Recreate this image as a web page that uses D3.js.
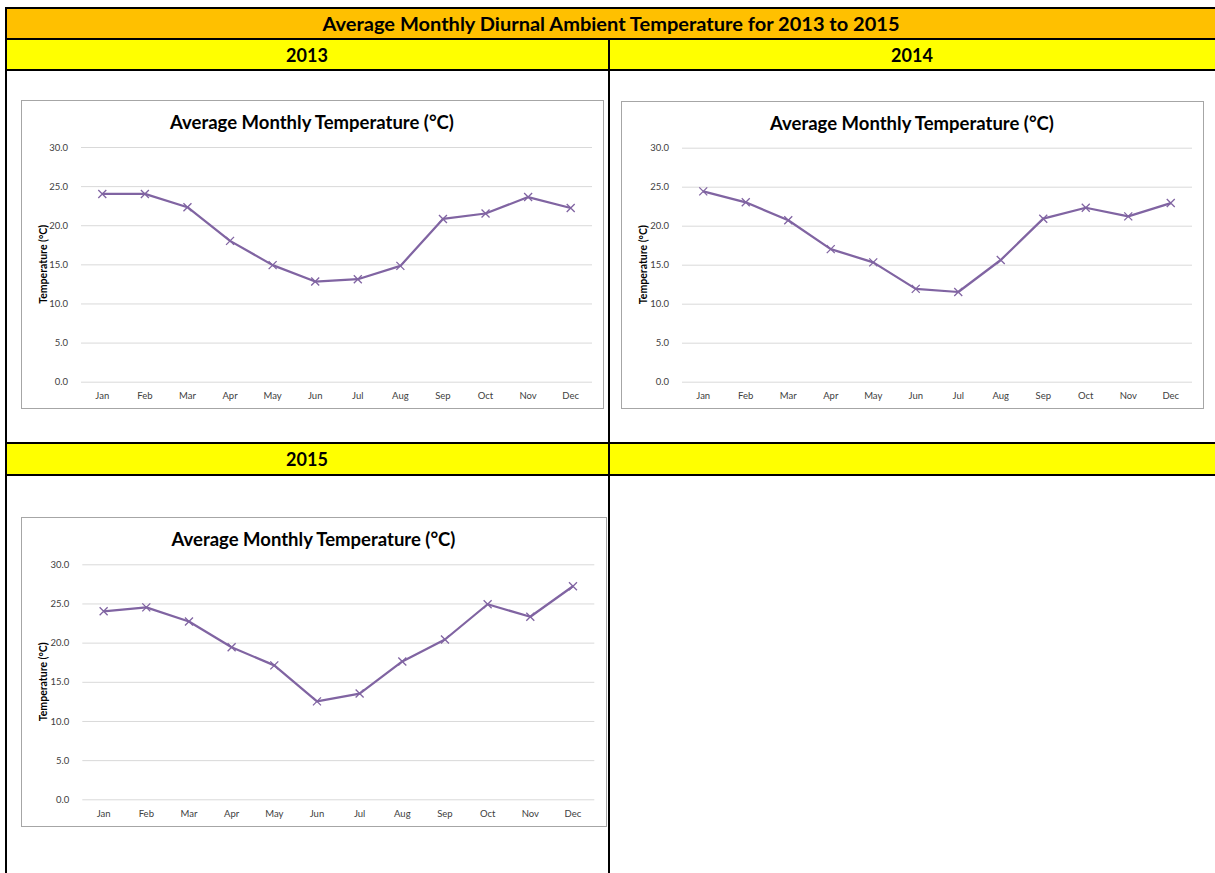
<!DOCTYPE html>
<html>
<head>
<meta charset="utf-8">
<script src="https://cdn.jsdelivr.net/npm/d3@7/dist/d3.min.js"></script>
<style>
  html, body { margin: 0; padding: 0; background: #fff; }
  svg { display: block; }
  text { font-family: Lato, "Open Sans", sans-serif; }
</style>
</head>
<body>
<svg id="sheet" width="1215" height="873"></svg>
<script>
// Monthly average diurnal ambient temperature (°C)
const months = ["Jan","Feb","Mar","Apr","May","Jun","Jul","Aug","Sep","Oct","Nov","Dec"];
const temps2013 = [24.0, 24.0, 22.3, 18.0, 14.9, 12.8, 13.1, 14.8, 20.8, 21.5, 23.6, 22.2];
const temps2014 = [24.4, 23.0, 20.7, 17.0, 15.3, 11.9, 11.5, 15.6, 20.9, 22.3, 21.2, 22.9];
const temps2015 = [24.0, 24.5, 22.7, 19.4, 17.1, 12.5, 13.5, 17.6, 20.4, 24.9, 23.3, 27.2];
const yTicks = [0, 5, 10, 15, 20, 25, 30];
const years = ["2013", "2014", "2015"];
const sheetTitle = "Average Monthly Diurnal Ambient Temperature for 2013 to 2015";
const chartTitle = "Average Monthly Temperature (°C)";
const yAxisTitle = "Temperature (°C)";

const svg = d3.select("#sheet");

// ---- spreadsheet table frame ----
const orange = "#FFC000", yellow = "#FFFF00";
const tbl = svg.append("g");
tbl.append("rect").attr("x", 6).attr("y", 8).attr("width", 1215).attr("height", 31).attr("fill", orange);
tbl.append("rect").attr("x", 6).attr("y", 39).attr("width", 1215).attr("height", 31).attr("fill", yellow);
tbl.append("rect").attr("x", 6).attr("y", 443).attr("width", 1215).attr("height", 32).attr("fill", yellow);

const hLines = [8, 39, 70, 443, 475];
tbl.selectAll("line.h").data(hLines).join("line")
  .attr("x1", 5).attr("x2", 1215).attr("y1", d => d).attr("y2", d => d)
  .attr("stroke", "#000").attr("stroke-width", 2);
tbl.append("line").attr("x1", 6).attr("x2", 6).attr("y1", 7).attr("y2", 873)
  .attr("stroke", "#000").attr("stroke-width", 2);
tbl.append("line").attr("x1", 609).attr("x2", 609).attr("y1", 39).attr("y2", 873)
  .attr("stroke", "#000").attr("stroke-width", 2);

const headStyle = sel => sel.attr("font-weight", 700).attr("font-size", 18)
  .attr("text-anchor", "middle").attr("dominant-baseline", "central").attr("fill", "#000");
tbl.append("text").attr("x", 611).attr("y", 23.5).text(sheetTitle).call(headStyle)
  .attr("textLength", 577).attr("lengthAdjust", "spacingAndGlyphs");
tbl.append("text").attr("x", 307).attr("y", 55).text(years[0]).call(headStyle);
tbl.append("text").attr("x", 912).attr("y", 55).text(years[1]).call(headStyle);
tbl.append("text").attr("x", 307).attr("y", 459).text(years[2]).call(headStyle);

// ---- one line chart per year ----
function drawChart(box, plot, values) {
  const g = svg.append("g");
  g.append("rect").attr("x", box.x + 0.5).attr("y", box.y + 0.5)
    .attr("width", box.w).attr("height", box.h)
    .attr("fill", "#fff").attr("stroke", "#a6a6a6").attr("stroke-width", 1);

  g.append("text").attr("x", box.x + box.w / 2).attr("y", box.y + 22)
    .attr("text-anchor", "middle").attr("dominant-baseline", "central")
    .attr("font-weight", 700).attr("font-size", 18.5).attr("fill", "#000")
    .text(chartTitle);

  const x = d3.scaleBand().domain(months).range([plot.l, plot.r]).padding(0);
  const y = d3.scaleLinear().domain([0, 30]).range([plot.b, plot.t]);

  // gridlines
  g.append("g").attr("transform", `translate(${plot.l},0)`)
    .call(d3.axisLeft(y).tickValues(yTicks).tickSize(-(plot.r - plot.l)).tickFormat(""))
    .call(a => a.select(".domain").remove())
    .call(a => a.selectAll("line").attr("stroke", "#d9d9d9").attr("stroke-width", 1));

  // y tick labels
  g.append("g").attr("transform", `translate(${plot.l - 10},0)`)
    .call(d3.axisLeft(y).tickValues(yTicks).tickSize(0).tickFormat(d3.format(".1f")))
    .call(a => a.select(".domain").remove())
    .call(a => a.selectAll("text").attr("font-size", 9.5).attr("fill", "#404040")
      .attr("font-family", "Lato, sans-serif"));

  // x tick labels
  g.append("g").attr("transform", `translate(0,${plot.b + 8})`)
    .call(d3.axisBottom(x).tickSize(0))
    .call(a => a.select(".domain").remove())
    .call(a => a.selectAll("text").attr("font-size", 9.5).attr("fill", "#404040")
      .attr("font-family", "Lato, sans-serif"));

  // y axis title
  g.append("text")
    .attr("transform", `translate(${box.x + 22},${(plot.t + plot.b) / 2}) rotate(-90)`)
    .attr("text-anchor", "middle").attr("dominant-baseline", "central")
    .attr("font-weight", 700).attr("font-size", 10.5).attr("fill", "#000")
    .text(yAxisTitle);

  const pts = values.map((v, i) => [x(months[i]) + x.bandwidth() / 2, y(v)]);
  g.append("path").datum(pts)
    .attr("d", d3.line())
    .attr("fill", "none").attr("stroke", "#8064A2").attr("stroke-width", 2.25)
    .attr("stroke-linejoin", "round");

  const s = 4;
  g.selectAll("path.mk").data(pts).join("path")
    .attr("class", "mk")
    .attr("d", d => `M${d[0]-s},${d[1]-s}L${d[0]+s},${d[1]+s}M${d[0]-s},${d[1]+s}L${d[0]+s},${d[1]-s}`)
    .attr("stroke", "#8064A2").attr("stroke-width", 1.3).attr("fill", "none");
}

drawChart({x: 21, y: 100, w: 582, h: 308}, {l: 81, r: 592, t: 147, b: 381.7}, temps2013);
drawChart({x: 621, y: 101, w: 582, h: 307}, {l: 682, r: 1192, t: 147.7, b: 381.7}, temps2014);
drawChart({x: 21, y: 517, w: 585, h: 309}, {l: 82.3, r: 594.3, t: 564.3, b: 799.3}, temps2015);
</script>
</body>
</html>
